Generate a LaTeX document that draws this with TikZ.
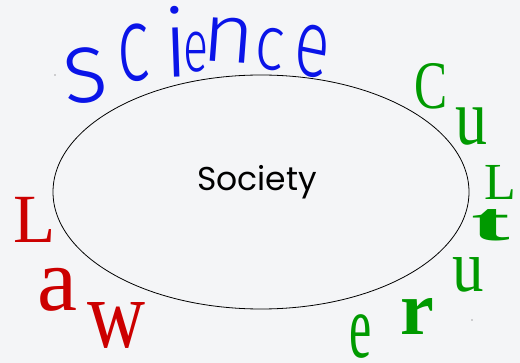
\documentclass[tikz,border=0pt]{standalone}
\usepackage{fontspec}
\setmainfont{Liberation Serif}
\newfontfamily\handfont{Poppins}
\newfontfamily\scifont{Fira Sans Light}
\definecolor{bgc}{HTML}{F4F5F7}
\definecolor{sciblue}{HTML}{0A14E8}
\definecolor{culgreen}{HTML}{009A00}
\definecolor{lawred}{HTML}{CC0000}
\tikzset{
  letter/.style={inner sep=0pt, transform shape},
  sci/.style={letter, text=sciblue},
  cul/.style={letter, text=culgreen},
  law/.style={letter, text=lawred},
}
\begin{document}
\begin{tikzpicture}[x=1pt,y=-1pt]
\fill[bgc] (0,0) rectangle (520,363);
\useasboundingbox (0,0) rectangle (520,363);
\fill[black!70] (55,75) circle (0.6);
\fill[black!70] (472,320) circle (0.6);
\draw[line width=0.8pt] (261,192) ellipse [x radius=208, y radius=117];
\node[inner sep=0pt] (soc) at (257,182) {\handfont\fontsize{33}{36}\selectfont Society};
% Science
\node[sci, xscale=0.95, rotate=6] (s1) at (85,76) {\scifont\fontsize{102}{102}\selectfont s};
\node[sci, xscale=0.66, rotate=4] (s2) at (134,53) {\scifont\fontsize{106}{106}\selectfont c};
\node[sci, rotate=2] (s3) at (176,42) {\scifont\fontsize{94}{94}\selectfont i};
\node[sci, xscale=0.63] (s4) at (196,52) {\scifont\fontsize{74}{74}\selectfont e};
\node[sci, xscale=1.1, rotate=-4] (s5) at (229,40) {\scifont\fontsize{83}{83}\selectfont n};
\node[sci, xscale=0.8, rotate=-6] (s6) at (270,49) {\scifont\fontsize{78}{78}\selectfont c};
\node[sci, xscale=0.68, rotate=-8] (s7) at (312,51) {\scifont\fontsize{96}{96}\selectfont e};
% Culture
\node[cul, xscale=0.73] (c1) at (431,86) {\fontsize{68}{68}\selectfont C};
\node[cul, xscale=0.8] (c2) at (471,127) {\fontsize{80}{80}\selectfont u};
\node[cul] (c3) at (500,182) {\fontsize{52}{52}\selectfont L};
\node[cul, xscale=2.1] (c4) at (491,225) {\fontsize{55}{55}\selectfont\bfseries t};
\node[cul, xscale=0.85] (c5) at (468,275) {\fontsize{74}{74}\selectfont u};
\node[cul] (c6) at (417,317) {\fontsize{76}{76}\selectfont\bfseries r};
\node[cul, xscale=0.55] (c7) at (361,337) {\fontsize{91}{91}\selectfont e};
% Law
\node[law] (l1) at (35,220) {\fontsize{69}{69}\selectfont L};
\node[law] (l2) at (57,290) {\fontsize{90}{90}\selectfont a};
\node[law, xscale=0.82] (l3) at (117,325) {\fontsize{98}{98}\selectfont w};
\end{tikzpicture}
\end{document}
